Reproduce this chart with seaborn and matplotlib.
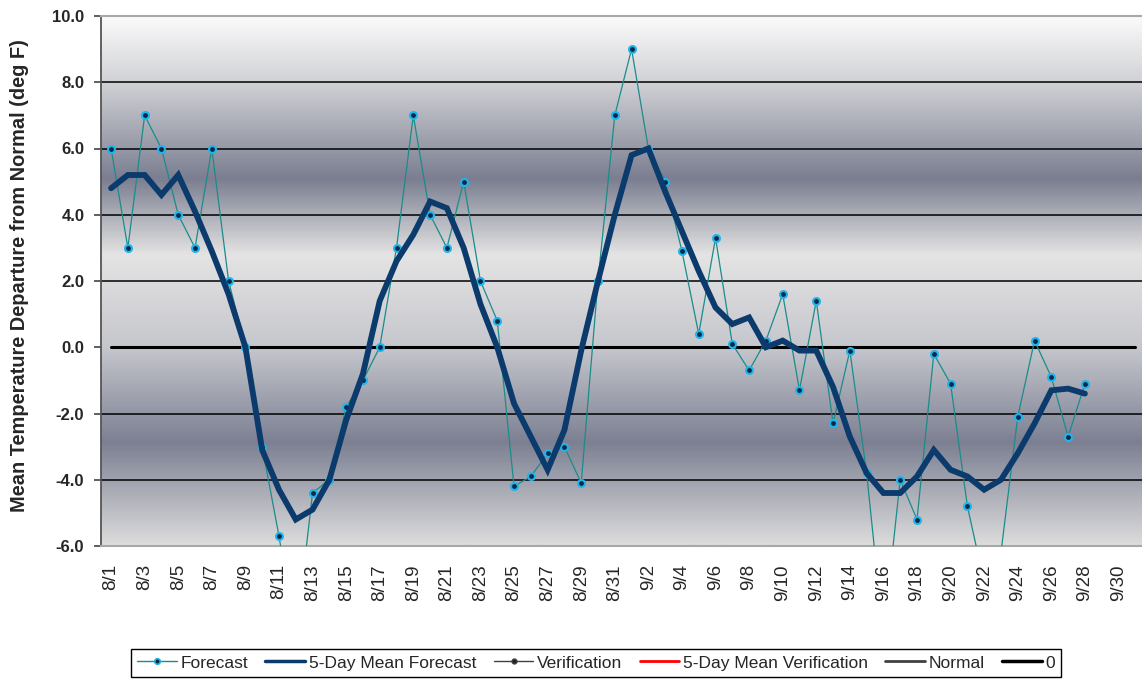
import numpy as np
import pandas as pd
import matplotlib
matplotlib.use('Agg')
import matplotlib.pyplot as plt
import seaborn as sns
from matplotlib.colors import LinearSegmentedColormap
from matplotlib.lines import Line2D

# dates on the category axis (8/1 .. 10/1)
dates = [f"8/{d}" for d in range(1, 32)] + [f"9/{d}" for d in range(1, 31)] + ["10/1"]

forecast = [6.0, 3.0, 7.0, 6.0, 4.0, 3.0, 6.0, 2.0, 0.0, -3.0,
            -5.7, -8.8, -4.4, -4.0, -1.8, -1.0, 0.0, 3.0, 7.0, 4.0,
            3.0, 5.0, 2.0, 0.8, -4.2, -3.9, -3.2, -3.0, -4.1, 2.0,
            7.0, 9.0, 6.0, 5.0, 2.9, 0.4, 3.3, 0.1, -0.7, 0.2,
            1.6, -1.3, 1.4, -2.3, -0.1, -3.8, -8.7, -4.0, -5.2, -0.2,
            -1.1, -4.8, -7.1, -6.2, -2.1, 0.2, -0.9, -2.7, -1.1]

mean_5day = [4.8, 5.2, 5.2, 4.6, 5.2, 4.1, 2.9, 1.6, 0.0, -3.1,
             -4.3, -5.2, -4.9, -4.0, -2.2, -0.8, 1.4, 2.6, 3.4, 4.4,
             4.2, 3.0, 1.3, 0.0, -1.7, -2.7, -3.7, -2.5, -0.1, 2.0,
             4.0, 5.8, 6.0, 4.7, 3.5, 2.3, 1.2, 0.7, 0.9, 0.0,
             0.2, -0.1, -0.1, -1.2, -2.7, -3.8, -4.4, -4.4, -3.9, -3.1,
             -3.7, -3.9, -4.3, -4.0, -3.2, -2.3, -1.3, -1.25, -1.4]

zero_line = [0.0] * len(dates)

df = pd.DataFrame({'day': np.arange(len(forecast)), 'forecast': forecast, 'mean': mean_5day})
df_zero = pd.DataFrame({'day': np.arange(len(dates)), 'zero': zero_line})

sns.set_style("white")
plt.rcParams['font.family'] = ['Liberation Sans', 'DejaVu Sans']

fig = plt.figure(figsize=(11.42, 6.87), dpi=100)
ax = fig.add_axes([101 / 1142, 1 - 546 / 687, 1041 / 1142, 530 / 687])

xmin, xmax = -0.6, 61.4
ymin, ymax = -6, 10

# banded grey gradient background
stops = [(-6.0, '#dcdcdc'), (-2.9, '#7c8092'), (0.0, '#c6c7cd'), (2.8, '#e4e4e4'),
         (5.1, '#7a7e90'), (8.0, '#d0d1d5'), (10.0, '#fafafa')]
cmap = LinearSegmentedColormap.from_list(
    'bg', [((v - ymin) / (ymax - ymin), c) for v, c in stops])
grad = np.linspace(ymin, ymax, 600).reshape(-1, 1)
ax.imshow(grad, cmap=cmap, aspect='auto', origin='lower',
          extent=[xmin, xmax, ymin, ymax], vmin=ymin, vmax=ymax, zorder=0)

for v in np.arange(-4, 10, 2):
    if v != 0:
        ax.axhline(v, color='black', lw=1.1, zorder=1)

sns.lineplot(data=df_zero, x='day', y='zero', color='black', lw=2.2, ax=ax, zorder=2)
sns.lineplot(data=df, x='day', y='forecast', color='#1a8c8c', lw=0.9, ax=ax, zorder=3,
             marker='o', markersize=5, markerfacecolor='#0a2a45',
             markeredgecolor='#1fb4ee', markeredgewidth=1.5)
sns.lineplot(data=df, x='day', y='mean', color='#0b3a6c', lw=4.2, ax=ax, zorder=4,
             solid_joinstyle='miter')

ax.set_xlim(xmin, xmax)
ax.set_ylim(ymin, ymax)
ax.set_yticks(np.arange(-6, 11, 2))
ax.set_yticklabels([f"{v:.1f}" for v in np.arange(-6, 11, 2)], fontsize=12, fontweight='bold')
ax.set_xticks(np.arange(0, len(dates), 2))
ax.set_xticklabels(dates[::2], rotation=90, fontsize=13.5)
ax.tick_params(axis='x', length=0, pad=13)
ax.tick_params(axis='y', length=5, width=1.2, color='#444444', direction='out', pad=7, left=True)
ax.set_xlabel('')
ax.set_ylabel('Mean Temperature Departure from Normal (deg F)', fontsize=14.4, fontweight='bold')
ax.yaxis.set_label_coords(-0.069, 0.51)

ax.spines['left'].set_color('#555555')
ax.spines['left'].set_linewidth(1.3)
for s in ['top', 'bottom']:
    ax.spines[s].set_color('#a8a8a8')
    ax.spines[s].set_linewidth(1.5)
ax.spines['right'].set_visible(False)

handles = [
    Line2D([], [], color='#1a8c8c', lw=1, marker='o', markersize=4, markerfacecolor='#0a2a45',
           markeredgecolor='#1fb4ee', markeredgewidth=1.2),
    Line2D([], [], color='#0b3a6c', lw=2.5),
    Line2D([], [], color='#404040', lw=1, marker='o', markersize=3.5, markerfacecolor='#202020',
           markeredgecolor='#404040'),
    Line2D([], [], color='#ff0000', lw=2),
    Line2D([], [], color='#404040', lw=2),
    Line2D([], [], color='black', lw=2.5),
]
labels = ['Forecast', '5-Day Mean Forecast', 'Verification', '5-Day Mean Verification', 'Normal', '0']
leg = fig.legend(handles, labels, loc='center', bbox_to_anchor=(0.522, 0.035), ncol=6,
                 fancybox=False, framealpha=1, edgecolor='black', handlelength=2.3,
                 handletextpad=0.2, columnspacing=1.0, borderpad=0.35,
                 prop={'family': ['Liberation Sans Narrow', 'Liberation Sans'], 'size': 12.5})
leg.get_frame().set_linewidth(1.0)

fig.savefig('out.png', dpi=100)
